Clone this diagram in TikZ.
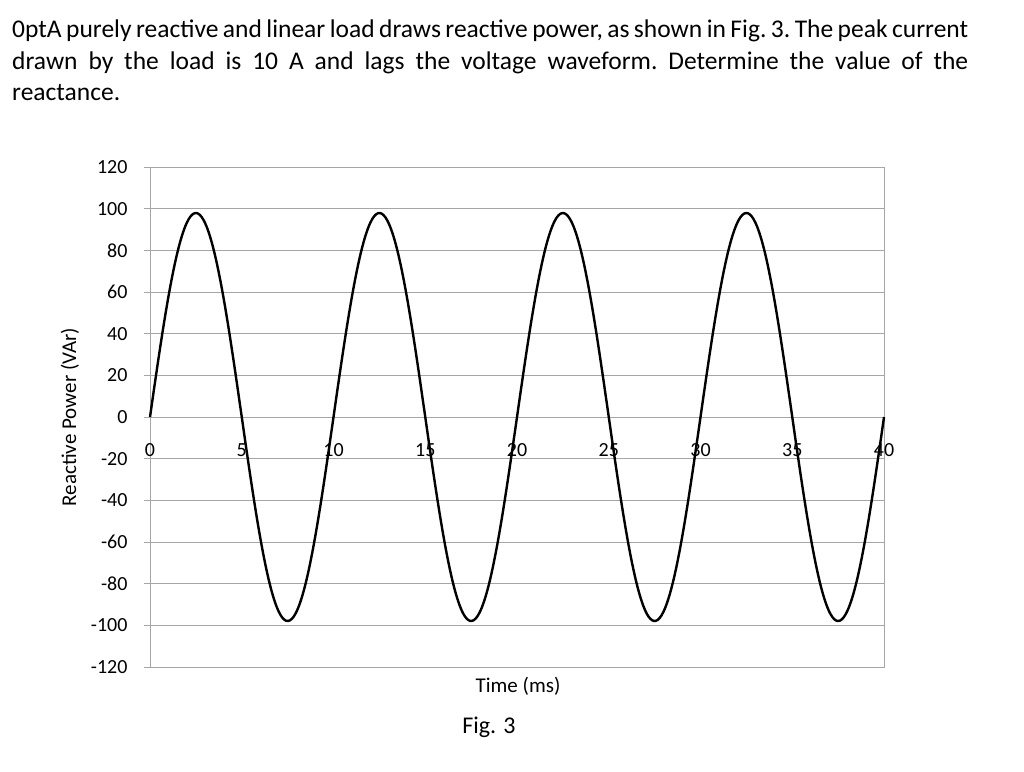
\documentclass[tikz,border=0pt]{standalone}
\usepackage{fontspec}
\setmainfont{Carlito}
\begin{document}
\begin{tikzpicture}[x=1pt,y=-1pt,
  grid/.style={draw=black!35,line width=0.8pt},
  ticklab/.style={font=\fontsize{20}{22}\selectfont},
  axlab/.style={font=\fontsize{21}{24}\selectfont}]
\useasboundingbox (0,0) rectangle (1024,771);
\node[anchor=north west,text width=956pt,align=justify,inner sep=0pt,
  font=\fontsize{25.5}{31.5}\selectfont\frenchspacing\hyphenpenalty=10000] (txt) at (12,20)
  {A purely reactive and linear load draws reactive power, as shown in Fig. 3. The peak current\linebreak drawn by the load is 10 A and lags the voltage waveform. Determine the value of the\linebreak reactance.};
\foreach \v in {-120,-100,...,120}{
  \draw[grid] (150,{417-\v*2.0833}) -- (884,{417-\v*2.0833});
  \draw[grid] (144,{417-\v*2.0833}) -- (150,{417-\v*2.0833});
  \node[ticklab,anchor=east] at (131,{417-\v*2.0833}) {\v};
}
\draw[grid] (150,167) rectangle (884,667);
\foreach \t in {0,5,...,40}{
  \node[ticklab] at ({150+\t*18.35},450) {\t};
}
\draw[line width=2.4pt,line join=round] plot[domain=0:40,samples=400,smooth]
  ({150+\x*18.35},{417-204*sin(36*\x)});
\node[axlab,rotate=90] (yl) at (70,417) {Reactive Power (VAr)};
\node[axlab] (xl) at (518,686) {Time (ms)};
\node[font=\fontsize{24}{28}\selectfont] (fig) at (489,727) {Fig. 3};
\end{tikzpicture}
\end{document}
